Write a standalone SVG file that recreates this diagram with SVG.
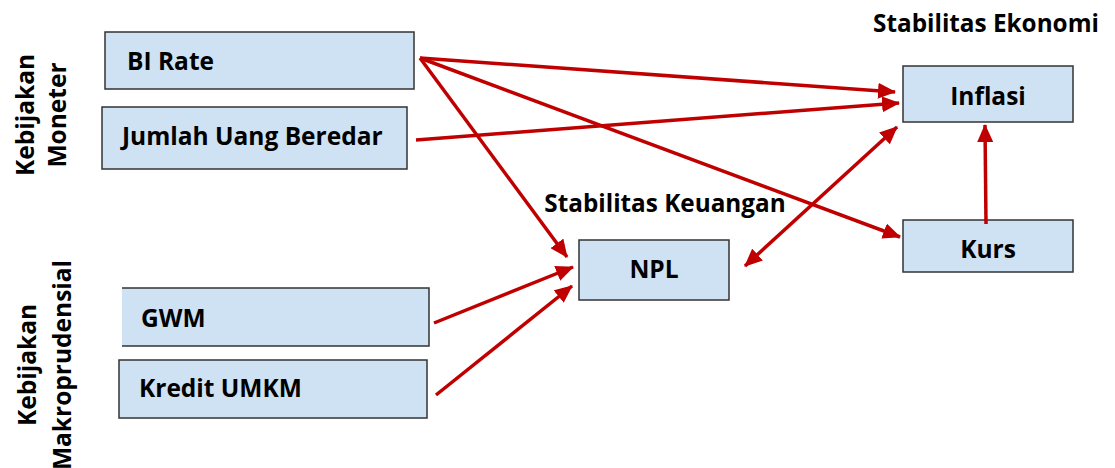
<svg xmlns="http://www.w3.org/2000/svg" width="1115" height="468" viewBox="0 0 1115 468">
  <style>
    .box { fill: #cfe2f3; stroke: #333333; stroke-width: 1.5; }
    .lbl { font-family: "Open Sans", "Liberation Sans", sans-serif; font-weight: bold; font-size: 24.5px; fill: #000; }
    .hdr { font-family: "Open Sans", "Liberation Sans", sans-serif; font-weight: bold; font-size: 24.3px; fill: #000; }
    .side { font-family: "Open Sans", "Liberation Sans", sans-serif; font-weight: bold; font-size: 24.5px; fill: #000; }
    .conn { stroke: #c00000; stroke-width: 3.5; fill: none; }
  </style>
  <defs>
    <marker id="arrow" markerUnits="userSpaceOnUse" markerWidth="18" markerHeight="16" refX="17" refY="8" orient="auto-start-reverse">
      <path d="M0,0 L18,8 L0,16 Z" fill="#c00000"/>
    </marker>
  </defs>

  <!-- side headings -->
  <g id="label-moneter">
    <text class="side" transform="translate(34,115) rotate(-90)" text-anchor="middle">Kebijakan</text>
    <text class="side" transform="translate(66,115) rotate(-90)" text-anchor="middle">Moneter</text>
  </g>
  <g id="label-makro">
    <text class="side" transform="translate(36,365) rotate(-90)" text-anchor="middle">Kebijakan</text>
    <text class="side" transform="translate(71,365) rotate(-90)" text-anchor="middle">Makroprudensial</text>
  </g>
  <text id="hdr-ekonomi" class="hdr" x="986" y="32" text-anchor="middle">Stabilitas Ekonomi</text>
  <text id="hdr-keuangan" class="hdr" x="665" y="212" text-anchor="middle">Stabilitas Keuangan</text>

  <!-- nodes -->
  <g id="node-birate">
    <rect class="box" x="105" y="32" width="309" height="57"/>
    <text class="lbl" x="127" y="70">BI Rate</text>
  </g>
  <g id="node-jub">
    <rect class="box" x="102" y="107" width="305" height="62"/>
    <text class="lbl" x="122" y="145">Jumlah Uang Beredar</text>
  </g>
  <g id="node-gwm">
    <rect x="122" y="288" width="307" height="58" fill="#cfe2f3"/>
    <path d="M122,288 H429 V346 H122" fill="none" stroke="#333333" stroke-width="1.5"/>
    <text class="lbl" x="141" y="327">GWM</text>
  </g>
  <g id="node-kredit">
    <rect class="box" x="119" y="360" width="308" height="58"/>
    <text class="lbl" x="139" y="397">Kredit UMKM</text>
  </g>
  <g id="node-npl">
    <rect class="box" x="579" y="240" width="150" height="60"/>
    <text class="lbl" x="654" y="278" text-anchor="middle">NPL</text>
  </g>
  <g id="node-inflasi">
    <rect class="box" x="903" y="66" width="170" height="56"/>
    <text class="lbl" x="988" y="105" text-anchor="middle">Inflasi</text>
  </g>
  <g id="node-kurs">
    <rect class="box" x="903" y="220" width="170" height="52"/>
    <text class="lbl" x="988" y="258" text-anchor="middle">Kurs</text>
  </g>

  <!-- connectors -->
  <g id="connectors">
    <line class="conn" x1="420" y1="58" x2="895" y2="92" marker-end="url(#arrow)"/>
    <line class="conn" x1="420" y1="58" x2="567" y2="257" marker-end="url(#arrow)"/>
    <line class="conn" x1="420" y1="58" x2="900" y2="237" marker-end="url(#arrow)"/>
    <line class="conn" x1="416" y1="140" x2="899" y2="103" marker-end="url(#arrow)"/>
    <line class="conn" x1="745" y1="266" x2="897" y2="127" marker-start="url(#arrow)" marker-end="url(#arrow)"/>
    <line class="conn" x1="986" y1="224" x2="985" y2="125" marker-end="url(#arrow)"/>
    <line class="conn" x1="434" y1="323" x2="573" y2="267" marker-end="url(#arrow)"/>
    <line class="conn" x1="436" y1="395" x2="572" y2="286" marker-end="url(#arrow)"/>
  </g>
</svg>
